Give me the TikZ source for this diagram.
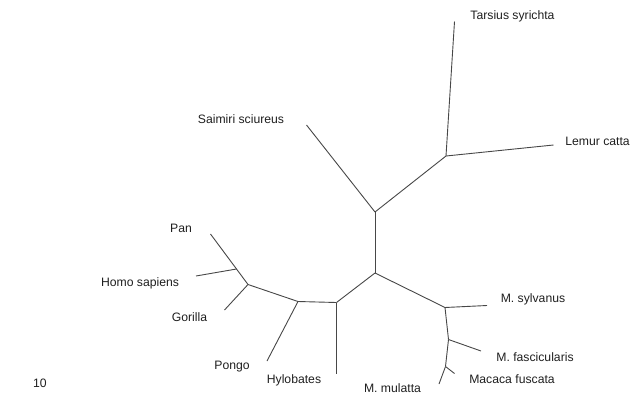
\documentclass[tikz,border=0pt]{standalone}
\usepackage{fontspec}
\setmainfont{Liberation Sans}
\begin{document}
\begin{tikzpicture}[x=1pt,y=-1pt,
  branch/.style={draw=black!72, line width=0.9pt},
  taxon/.style={font=\fontsize{12.2}{13}\selectfont, text=black!88, inner sep=0pt, anchor=center}]
\useasboundingbox (0,0) rectangle (634,394);

% internal nodes of the tree
\coordinate (nA) at (375,212);
\coordinate (nB) at (375,273);
\coordinate (nTL) at (446,156);
\coordinate (nC) at (336.5,302.5);
\coordinate (nD) at (298,301.5);
\coordinate (nE) at (248,284.5);
\coordinate (nF) at (236.5,269);
\coordinate (nG) at (445,307.5);
\coordinate (nH) at (448.5,339.5);
\coordinate (nI) at (445.5,366.5);

% leaf tips
\coordinate (tTarsius) at (454.5,21.5);
\coordinate (tLemur) at (553.5,145);
\coordinate (tSaimiri) at (306.5,125);
\coordinate (tPan) at (210.5,234);
\coordinate (tHomo) at (196,276);
\coordinate (tGorilla) at (224.5,310);
\coordinate (tPongo) at (267,361);
\coordinate (tHylobates) at (336.5,374);
\coordinate (tSylvanus) at (487,305.5);
\coordinate (tFascic) at (481,351);
\coordinate (tFuscata) at (454.5,373.5);
\coordinate (tMulatta) at (439,384);

% branches
\draw[branch] (nA) -- (nB);
\draw[branch] (nA) -- (tSaimiri);
\draw[branch] (nA) -- (nTL);
\draw[branch] (nTL) -- (tTarsius);
\draw[branch] (nTL) -- (tLemur);
\draw[branch] (nB) -- (nC);
\draw[branch] (nB) -- (nG);
\draw[branch] (nC) -- (tHylobates);
\draw[branch] (nC) -- (nD);
\draw[branch] (nD) -- (tPongo);
\draw[branch] (nD) -- (nE);
\draw[branch] (nE) -- (tGorilla);
\draw[branch] (nE) -- (nF);
\draw[branch] (nF) -- (tPan);
\draw[branch] (nF) -- (tHomo);
\draw[branch] (nG) -- (tSylvanus);
\draw[branch] (nG) -- (nH);
\draw[branch] (nH) -- (tFascic);
\draw[branch] (nH) -- (nI);
\draw[branch] (nI) -- (tFuscata);
\draw[branch] (nI) -- (tMulatta);

% taxon labels
\node[taxon] (lTarsius) at (512.5,16) {Tarsius syrichta};
\node[taxon] (lLemur) at (597.5,141) {Lemur catta};
\node[taxon] (lSaimiri) at (241,119.5) {Saimiri sciureus};
\node[taxon] (lPan) at (181,228.5) {Pan};
\node[taxon] (lHomo) at (140,283.5) {Homo sapiens};
\node[taxon] (lGorilla) at (189.5,317) {Gorilla};
\node[taxon] (lPongo) at (232,366.5) {Pongo};
\node[taxon] (lHylobates) at (294,380.5) {Hylobates};
\node[taxon] (lMulatta) at (392.5,388) {M. mulatta};
\node[taxon] (lFuscata) at (512,379.5) {Macaca fuscata};
\node[taxon] (lFascic) at (535,357) {M. fascicularis};
\node[taxon] (lSylvanus) at (533,299.5) {M. sylvanus};
\node[taxon] (lScale) at (40,383.5) {10};
\end{tikzpicture}
\end{document}
